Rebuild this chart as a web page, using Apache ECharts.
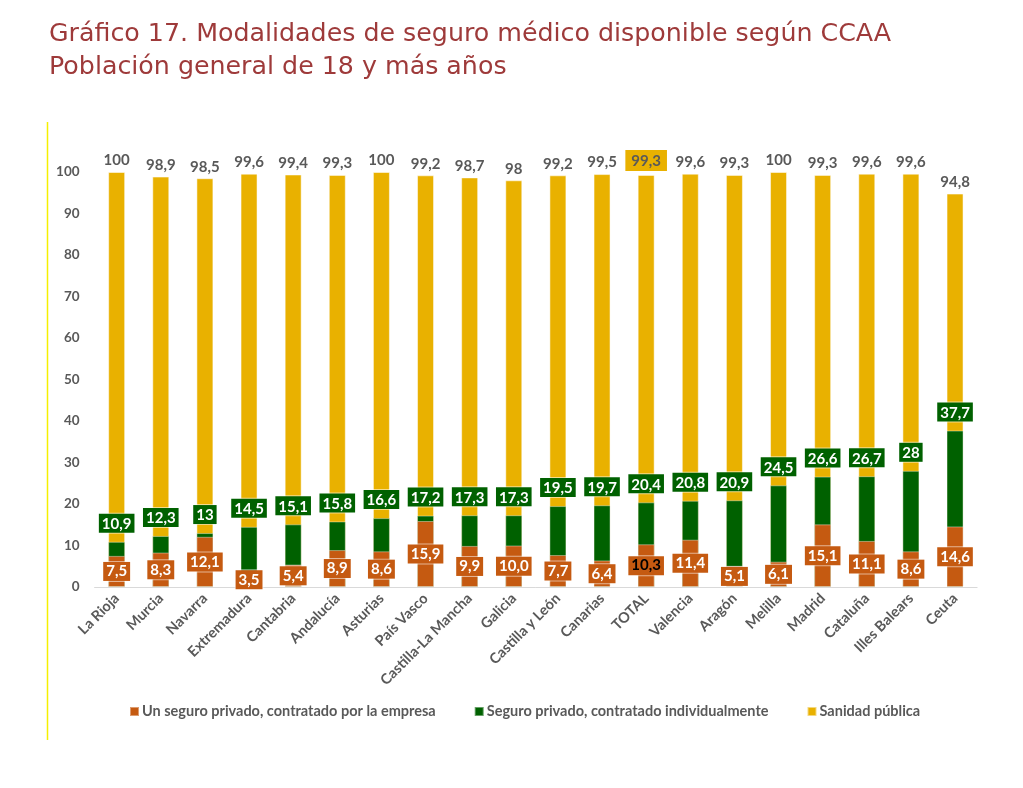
<!DOCTYPE html>
<html>
<head>
<meta charset="utf-8">
<script src="https://cdn.jsdelivr.net/npm/echarts@6/dist/echarts.min.js"></script>
<style>
html,body{margin:0;padding:0;background:#fff;}
#chart{width:1023px;height:788px;}
</style>
</head>
<body>
<div id="chart"></div>
<script>
const categories = ['La Rioja','Murcia','Navarra','Extremadura','Cantabria','Andalucía','Asturias','País Vasco','Castilla-La Mancha','Galicia','Castilla y León','Canarias','TOTAL','Valencia','Aragón','Melilla','Madrid','Cataluña','Illes Balears','Ceuta'];
// Values as printed in the chart (Spanish decimal comma)
const empresaTxt = ['7,5','8,3','12,1','3,5','5,4','8,9','8,6','15,9','9,9','10,0','7,7','6,4','10,3','11,4','5,1','6,1','15,1','11,1','8,6','14,6'];
const individualTxt = ['10,9','12,3','13','14,5','15,1','15,8','16,6','17,2','17,3','17,3','19,5','19,7','20,4','20,8','20,9','24,5','26,6','26,7','28','37,7'];
const publicaTxt = ['100','98,9','98,5','99,6','99,4','99,3','100','99,2','98,7','98','99,2','99,5','99,3','99,6','99,3','100','99,3','99,6','99,6','94,8'];
const yTicks = [0,10,20,30,40,50,60,70,80,90,100];
const seriesNames = ['Un seguro privado, contratado por la empresa','Seguro privado, contratado individualmente','Sanidad pública'];

const toNum = s => parseFloat(s.replace(',', '.'));
const empresa = empresaTxt.map(toNum);
const individual = individualTxt.map(toNum);
const publica = publicaTxt.map(toNum);

const C_ORANGE = '#C55A11', C_GREEN = '#006100', C_YELLOW = '#E9B100';
const GRAY = '#595959';
const FONT = 'Lato, "Liberation Sans", sans-serif';

const chart = echarts.init(document.getElementById('chart'));

const publicaData = publica.map((v, i) => {
  const item = { value: v };
  if (categories[i] === 'TOTAL') {
    item.label = { backgroundColor: C_YELLOW, padding: [4, 6, 2, 6], borderColor: 'rgba(255,255,255,0.6)', borderWidth: 1 };
  }
  return item;
});
const empresaData = empresa.map((v, i) => {
  const item = { value: v };
  if (categories[i] === 'TOTAL') item.label = { color: '#000' };
  return item;
});

const option = {
  animation: false,
  backgroundColor: '#fff',
  title: {
    text: 'Gráfico 17. Modalidades de seguro médico disponible según CCAA\nPoblación general de 18 y más años',
    left: 44, top: 13,
    textStyle: { color: '#9E3A3A', fontSize: 25.3, fontWeight: 'normal', fontFamily: '"DejaVu Sans", sans-serif', lineHeight: 33 }
  },
  graphic: [{
    type: 'line', shape: { x1: 47.5, y1: 122, x2: 47.5, y2: 740 },
    style: { stroke: '#F5F000', lineWidth: 1.5 }
  }],
  legend: {
    data: seriesNames,
    top: 699, left: 124,
    itemWidth: 9, itemHeight: 9, itemGap: 38,
    icon: 'rect',
    textStyle: { color: GRAY, fontSize: 14.5, fontFamily: FONT, fontWeight: 'bold', padding: [0, 0, 0, -2] }
  },
  grid: { left: 94.6, right: 45.9, top: 172, bottom: 201, containLabel: false },
  xAxis: {
    type: 'category', data: categories,
    axisLine: { show: true, lineStyle: { color: '#D9D9D9', width: 1 } },
    axisTick: { show: false },
    axisLabel: { rotate: 45, interval: 0, margin: 9, color: GRAY, fontSize: 14.5, fontWeight: 'bold', fontFamily: FONT }
  },
  yAxis: {
    type: 'value', min: 0, max: 100, interval: 10,
    splitLine: { show: false }, axisLine: { show: false }, axisTick: { show: false },
    axisLabel: { margin: 15, color: GRAY, fontSize: 13.5, fontWeight: 'bold', fontFamily: FONT,
      customValues: yTicks }
  },
  series: [
    {
      name: seriesNames[2], type: 'bar', data: publicaData, barWidth: 17, barGap: '-100%', z: 1,
      itemStyle: { color: C_YELLOW, borderColor: 'rgba(255,255,255,0.5)', borderWidth: 1 },
      label: { show: true, position: 'top', distance: 4, color: GRAY, fontSize: 15, fontWeight: 'bold', fontFamily: FONT,
        formatter: p => publicaTxt[p.dataIndex] }
    },
    {
      name: seriesNames[1], type: 'bar', data: individual, barWidth: 17, barGap: '-100%', z: 2,
      itemStyle: { color: C_GREEN, borderColor: 'rgba(255,255,255,0.4)', borderWidth: 1 },
      label: { show: true, position: 'top', distance: 9, color: '#fff', fontSize: 15, fontWeight: 'bold', fontFamily: FONT,
        backgroundColor: C_GREEN, padding: [3, 3, 1, 3], borderColor: 'rgba(255,255,255,0.55)', borderWidth: 1,
        formatter: p => individualTxt[p.dataIndex] }
    },
    {
      name: seriesNames[0], type: 'bar', data: empresaData, barWidth: 17, barGap: '-100%', z: 3,
      itemStyle: { color: C_ORANGE, borderColor: 'rgba(255,255,255,0.4)', borderWidth: 1 },
      label: { show: true, position: 'inside', color: '#fff', fontSize: 15, fontWeight: 'bold', fontFamily: FONT,
        backgroundColor: C_ORANGE, padding: [3, 3, 1, 3], borderColor: 'rgba(255,255,255,0.55)', borderWidth: 1,
        formatter: p => empresaTxt[p.dataIndex] }
    }
  ]
};
chart.setOption(option);
</script>
</body>
</html>
